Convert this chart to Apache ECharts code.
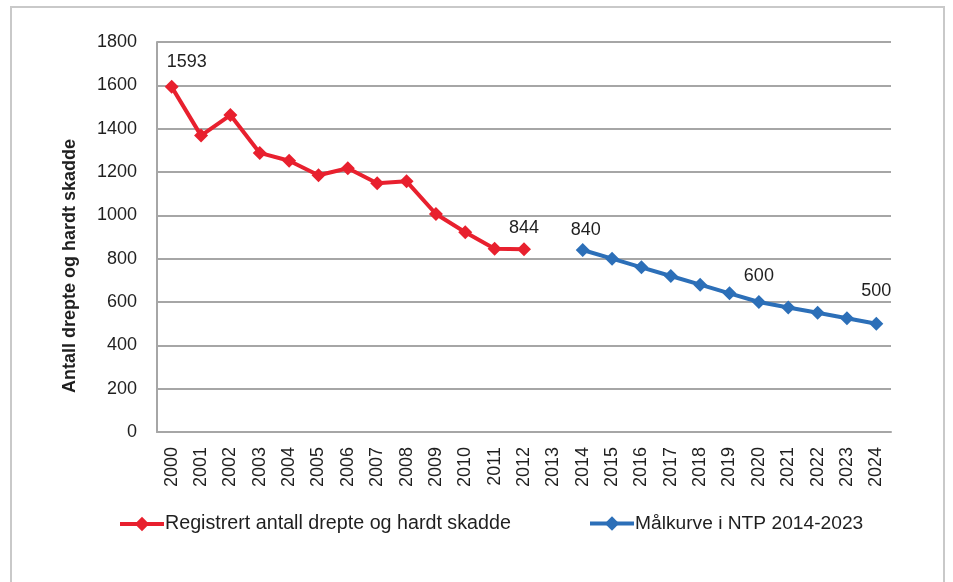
<!DOCTYPE html>
<html>
<head>
<meta charset="utf-8">
<style>
  html, body { margin: 0; padding: 0; background: #ffffff; }
  #chart { width: 953px; height: 582px; }
</style>
<script src="https://cdn.jsdelivr.net/npm/echarts@6/dist/echarts.min.js"></script>
</head>
<body>
<div id="chart"></div>
<script>
// Years on the category axis
var years = ['2000','2001','2002','2003','2004','2005','2006','2007','2008','2009','2010','2011','2012',
             '2013','2014','2015','2016','2017','2018','2019','2020','2021','2022','2023','2024'];

// Registered killed and seriously injured, 2000-2012
var registrert = [1593, 1368, 1463, 1288, 1252, 1185, 1217, 1148, 1157, 1006, 922, 846, 844];

// Target curve in NTP 2014-2023, plotted 2014-2024
var maalkurve = [840, 800, 760, 720, 680, 640, 600, 575, 550, 525, 500];

// Y axis ticks
var yTicks = [0, 200, 400, 600, 800, 1000, 1200, 1400, 1600, 1800];

// Which points carry a value label (year -> label placement)
var redLabelled = { '2000': { distance: 9, offset: [15, 0] }, '2012': { distance: 5, offset: [0, 0] } };
var blueLabelled = { '2014': { distance: 4, offset: [3, 0] }, '2020': { distance: 10, offset: [0, 0] }, '2024': { distance: 17, offset: [0, 0] } };

var RED = '#e8202e';
var BLUE = '#2c6fb8';
var TEXT = '#1f1f1f';
var FONT = '"Liberation Sans", Arial, sans-serif';

function buildSeriesData(values, startYear, labelled) {
  var out = [];
  var startIdx = years.indexOf(startYear);
  for (var i = 0; i < years.length; i++) {
    var k = i - startIdx;
    if (k < 0 || k >= values.length) { out.push(null); continue; }
    var item = { value: values[k] };
    var lab = labelled[years[i]];
    if (lab) {
      item.label = { show: true, position: 'top', distance: lab.distance, offset: lab.offset,
                     formatter: '{c}', color: TEXT, fontSize: 18, fontFamily: FONT };
    }
    out.push(item);
  }
  return out;
}

var chart = echarts.init(document.getElementById('chart'), null, { renderer: 'canvas' });

chart.setOption({
  animation: false,
  backgroundColor: '#ffffff',
  textStyle: { fontFamily: FONT, color: TEXT },
  grid: { left: 157, right: 62, top: 42, bottom: 150, containLabel: false },
  graphic: [
    {
      type: 'rect',
      shape: { x: 11, y: 7, width: 933, height: 600 },
      style: { fill: 'none', stroke: '#c9c9c9', lineWidth: 2 },
      silent: true
    },
    {
      type: 'text',
      x: 70, y: 266,
      rotation: Math.PI / 2,
      style: {
        text: 'Antall drepte og hardt skadde',
        fontSize: 18, fontWeight: 'bold', fontFamily: FONT,
        fill: TEXT, align: 'center', verticalAlign: 'middle'
      }
    }
  ],
  legend: [
    {
      left: 113, top: 509,
      itemWidth: 44, itemHeight: 18, itemGap: 0,
      lineStyle: { width: 4 },
      textStyle: { fontSize: 19.7, color: TEXT, fontFamily: FONT, padding: [0, 0, 0, -4] },
      data: ['Registrert antall drepte og hardt skadde']
    },
    {
      left: 583, top: 509,
      itemWidth: 44, itemHeight: 18, itemGap: 0,
      lineStyle: { width: 4 },
      textStyle: { fontSize: 19.2, color: TEXT, fontFamily: FONT, padding: [0, 0, 0, -4] },
      data: ['Målkurve i NTP 2014-2023']
    }
  ],
  xAxis: {
    type: 'category',
    data: years,
    boundaryGap: true,
    axisLine: { show: true, lineStyle: { color: '#a6a6a6', width: 2 } },
    axisTick: { show: false },
    axisLabel: { rotate: 90, margin: 15, fontSize: 18, color: TEXT, fontFamily: FONT, interval: 0 }
  },
  yAxis: {
    type: 'value',
    min: yTicks[0],
    max: yTicks[yTicks.length - 1],
    interval: yTicks[1] - yTicks[0],
    axisLine: { show: true, lineStyle: { color: '#a6a6a6', width: 2 } },
    axisTick: { show: false },
    axisLabel: { margin: 20, fontSize: 18, color: TEXT, fontFamily: FONT,
                 formatter: function (v) { return String(v); } },
    splitLine: { show: true, lineStyle: { color: '#a6a6a6', width: 2 } }
  },
  series: [
    {
      name: 'Registrert antall drepte og hardt skadde',
      type: 'line',
      data: buildSeriesData(registrert, '2000', redLabelled),
      connectNulls: false,
      symbol: 'diamond',
      symbolSize: 14,
      itemStyle: { color: RED },
      lineStyle: { color: RED, width: 4 },
      label: { show: false },
      z: 3
    },
    {
      name: 'Målkurve i NTP 2014-2023',
      type: 'line',
      data: buildSeriesData(maalkurve, '2014', blueLabelled),
      connectNulls: false,
      symbol: 'diamond',
      symbolSize: 14,
      itemStyle: { color: BLUE },
      lineStyle: { color: BLUE, width: 4 },
      label: { show: false },
      z: 3
    }
  ]
});
</script>
</body>
</html>
